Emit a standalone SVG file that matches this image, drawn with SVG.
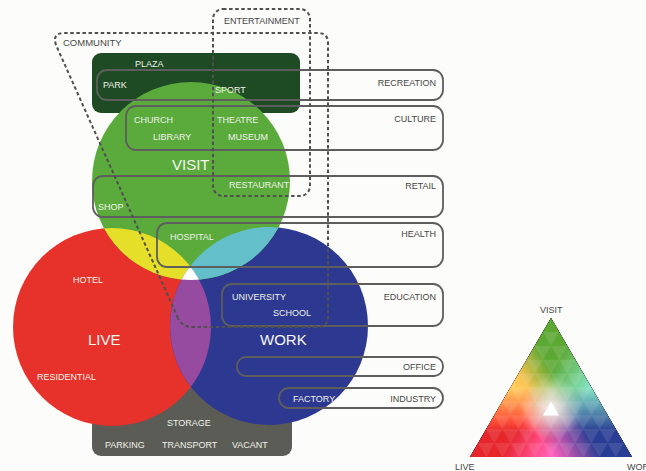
<svg xmlns="http://www.w3.org/2000/svg" width="646" height="471" viewBox="0 0 646 471">
  <defs>
    <style>
      text { font-family: "Liberation Sans", Arial, sans-serif; font-size: 9px; }
      .in { fill: #eef2e8; }
      .dark { fill: #474747; }
      .big { font-size: 15px; fill: #f6f6f2; }
      .zone { fill: none; stroke: #5e5e5e; stroke-width: 1.8; }
      .dash { fill: none; stroke: #505050; stroke-width: 2; stroke-dasharray: 3.5 2.6; }
      .end { text-anchor: end; }
      .blend { mix-blend-mode: screen; }
    </style>
    <clipPath id="clipVisit"><circle cx="191" cy="181" r="99"/></clipPath>
    <clipPath id="clipWork"><circle cx="269" cy="326" r="99"/></clipPath>
    <!-- channel ramps for the mixing triangle -->
    <linearGradient id="rampLive" gradientUnits="userSpaceOnUse" x1="470" y1="457" x2="591.5" y2="387.5">
      <stop offset="0" stop-color="#f00"/>
      <stop offset="0.5" stop-color="#f00"/>
      <stop offset="0.82" stop-color="#000"/>
      <stop offset="1" stop-color="#000"/>
    </linearGradient>
    <linearGradient id="rampVisit" gradientUnits="userSpaceOnUse" x1="551" y1="318" x2="551" y2="457">
      <stop offset="0" stop-color="#0f0"/>
      <stop offset="0.5" stop-color="#0f0"/>
      <stop offset="0.82" stop-color="#000"/>
      <stop offset="1" stop-color="#000"/>
    </linearGradient>
    <linearGradient id="rampWork" gradientUnits="userSpaceOnUse" x1="632" y1="457" x2="510.5" y2="387.5">
      <stop offset="0" stop-color="#00f"/>
      <stop offset="0.5" stop-color="#00f"/>
      <stop offset="0.82" stop-color="#000"/>
      <stop offset="1" stop-color="#000"/>
    </linearGradient>
    <radialGradient id="glow" gradientUnits="userSpaceOnUse" cx="551" cy="408" r="32">
      <stop offset="0" stop-color="#fff" stop-opacity="0.85"/>
      <stop offset="0.45" stop-color="#fff" stop-opacity="0.5"/>
      <stop offset="1" stop-color="#fff" stop-opacity="0"/>
    </radialGradient>
    <!-- alternate facets of the triangular grid -->
    <pattern id="facets" patternUnits="userSpaceOnUse" x="542.9" y="318" width="16.2" height="27.8">
      <polygon points="8.1,0 16.2,0 16.2,13.9" fill="#fff" fill-opacity="0.1"/>
      <polygon points="0,0 8.1,0 0,13.9" fill="#fff" fill-opacity="0.1"/>
      <polygon points="0,13.9 16.2,13.9 8.1,27.8" fill="#fff" fill-opacity="0.1"/>
    </pattern>
    <!-- maps pure RGB channels onto the live / visit / work palette -->
    <filter id="palette" x="0" y="0" width="1" height="1" color-interpolation-filters="sRGB">
      <feColorMatrix type="matrix" values="0.9 0.36 0.16 0 0  0.15 0.66 0.24 0 0  0.17 0.2 0.58 0 0  0 0 0 1 0"/>
    </filter>
  </defs>

  <rect width="646" height="471" fill="#fcfcfa"/>

  <!-- infrastructure block behind the circles -->
  <g id="infrastructure">
    <rect x="92" y="380" width="200" height="76" rx="9" fill="#5c5c56"/>
  </g>

  <!-- recreation block -->
  <g id="recreation-block">
    <rect x="92" y="53" width="208" height="60" rx="9" fill="#1f4b24"/>
  </g>

  <!-- the three circles and their overlaps -->
  <g id="circles">
    <circle id="live" cx="112" cy="327" r="99" fill="#e6322a"/>
    <circle id="work" cx="269" cy="326" r="99" fill="#2d3891"/>
    <circle id="visit" cx="191" cy="181" r="99" fill="#5aab3c"/>
    <circle cx="112" cy="327" r="99" fill="#e6df2a" clip-path="url(#clipVisit)"/>
    <circle cx="269" cy="326" r="99" fill="#63bfc9" clip-path="url(#clipVisit)"/>
    <circle cx="112" cy="327" r="99" fill="#964aa0" clip-path="url(#clipWork)"/>
    <g clip-path="url(#clipVisit)">
      <circle cx="112" cy="327" r="99" fill="#ffffff" clip-path="url(#clipWork)"/>
    </g>
  </g>

  <!-- activity bands -->
  <g id="zones">
    <rect id="zone-recreation" class="zone" x="97" y="70" width="346" height="30" rx="10"/>
    <rect id="zone-culture" class="zone" x="126" y="106" width="317" height="44" rx="10"/>
    <rect id="zone-retail" class="zone" x="93" y="176" width="350" height="41" rx="10"/>
    <rect id="zone-health" class="zone" x="157" y="223" width="286" height="44" rx="10"/>
    <rect id="zone-education" class="zone" x="222" y="284" width="221" height="42" rx="10"/>
    <rect id="zone-office" class="zone" x="237" y="357" width="206" height="19" rx="9"/>
    <rect id="zone-industry" class="zone" x="279" y="388" width="164" height="20" rx="10"/>
  </g>

  <!-- dashed groupings -->
  <g id="community">
    <path class="dash" d="M178,318 L56,45 Q52,33 64,33 L318,33 Q328,33 328,43 L328,317 Q328,327 318,327 L192,327 Q182,327 178,318 Z"/>
    <text class="dark" x="63" y="46" style="font-size:9.5px">COMMUNITY</text>
  </g>
  <g id="entertainment">
    <rect class="dash" x="213" y="9" width="97" height="187" rx="10"/>
    <text class="dark" x="224" y="24">ENTERTAINMENT</text>
  </g>

  <!-- band labels -->
  <g id="band-labels">
    <text class="dark end" x="436" y="86">RECREATION</text>
    <text class="dark end" x="436" y="122">CULTURE</text>
    <text class="dark end" x="436" y="189">RETAIL</text>
    <text class="dark end" x="436" y="237">HEALTH</text>
    <text class="dark end" x="436" y="300">EDUCATION</text>
    <text class="dark end" x="436" y="370">OFFICE</text>
    <text class="dark end" x="436" y="402">INDUSTRY</text>
  </g>

  <!-- uses -->
  <g id="uses">
    <text class="in" x="135" y="67">PLAZA</text>
    <text class="in" x="103" y="88">PARK</text>
    <text class="in" x="215" y="93">SPORT</text>
    <text class="in" x="134" y="123">CHURCH</text>
    <text class="in" x="153" y="140">LIBRARY</text>
    <text class="in" x="217" y="123">THEATRE</text>
    <text class="in" x="228" y="140">MUSEUM</text>
    <text class="in" x="229" y="188">RESTAURANT</text>
    <text class="in" x="98" y="210">SHOP</text>
    <text class="in" x="170" y="240">HOSPITAL</text>
    <text class="in" x="73" y="283">HOTEL</text>
    <text class="in" x="37" y="380">RESIDENTIAL</text>
    <text class="in" x="232" y="300">UNIVERSITY</text>
    <text class="in" x="273" y="316">SCHOOL</text>
    <text class="in" x="293" y="402">FACTORY</text>
    <text class="in" x="167" y="426">STORAGE</text>
    <text class="in" x="105" y="448">PARKING</text>
    <text class="in" x="162" y="448">TRANSPORT</text>
    <text class="in" x="232" y="448">VACANT</text>
  </g>

  <g id="circle-titles">
    <text class="big" x="172" y="170">VISIT</text>
    <text class="big" x="88" y="345">LIVE</text>
    <text class="big" x="260" y="345">WORK</text>
  </g>

  <!-- mixing triangle -->
  <g id="mix-triangle">
    <g filter="url(#palette)" style="isolation:isolate">
      <polygon points="470,457 632,457 551,318" fill="#000"/>
      <polygon class="blend" points="470,457 632,457 551,318" fill="url(#rampLive)"/>
      <polygon class="blend" points="470,457 632,457 551,318" fill="url(#rampVisit)"/>
      <polygon class="blend" points="470,457 632,457 551,318" fill="url(#rampWork)"/>
    </g>
    <polygon points="470,457 632,457 551,318" fill="url(#glow)"/>
    <polygon points="470,457 632,457 551,318" fill="url(#facets)"/>
    <polygon points="543,415.5 559,415.5 551,401.5" fill="#ffffff"/>
    <text class="dark" x="540" y="313" fill="#333">VISIT</text>
    <text class="dark" x="455" y="470">LIVE</text>
    <text class="dark" x="627" y="470">WORK</text>
  </g>
</svg>
